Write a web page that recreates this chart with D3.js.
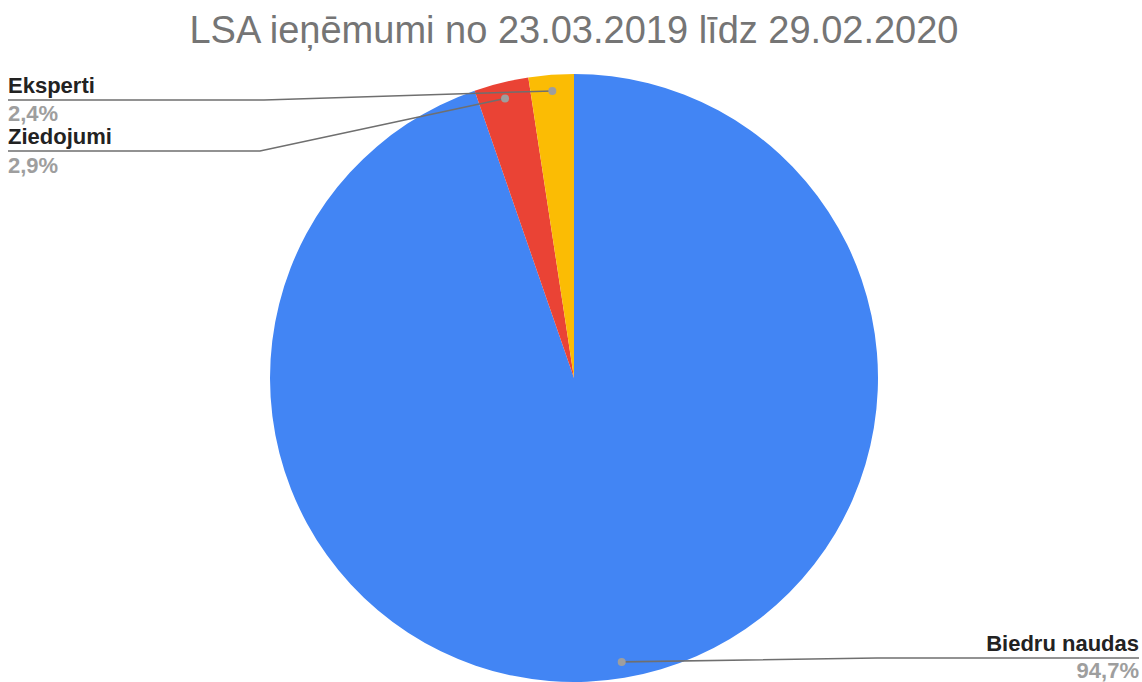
<!DOCTYPE html>
<html>
<head>
<meta charset="utf-8">
<script src="https://cdn.jsdelivr.net/npm/d3@7"></script>
<style>
  body { margin: 0; background: #fff; }
  svg { display: block; font-family: "Liberation Sans", Arial, sans-serif; }
</style>
</head>
<body>
<div id="chart"></div>
<script>
const categories = ['Biedru naudas', 'Ziedojumi', 'Eksperti'];
const values = [94.7, 2.9, 2.4];
const percentLabels = ['94,7%', '2,9%', '2,4%'];
const colors = ['#4285F4', '#EA4335', '#FBBC04'];

const width = 1142;
const height = 682;
const cx = 574;
const cy = 378;
const radius = 304;

// where each label sits: side, y of the horizontal leader, x of the elbow, offset of the % text
const labelLayout = [
  {side: 'right', lineY: 658, elbowX: 877, pctDy: 20},
  {side: 'left', lineY: 151, elbowX: 260, pctDy: 22},
  {side: 'left', lineY: 100, elbowX: 264, pctDy: 21}
];

window.onload = function() {
  drawPie();
};

function drawPie() {
  const svg = d3.select('#chart')
    .append('svg')
      .attr('width', width)
      .attr('height', height);

  // title
  svg.append('text')
    .attr('x', cx)
    .attr('y', 43)
    .attr('text-anchor', 'middle')
    .attr('fill', '#757575')
    .style('font-size', '38px')
    .text('LSA ieņēmumi no 23.03.2019 līdz 29.02.2020');

  const data = categories.map((c, i) => ({name: c, value: values[i], pct: percentLabels[i], color: colors[i], layout: labelLayout[i]}));

  const parsed = d3.pie().sort(null).value(d => d.value)(data);

  const arc = d3.arc().innerRadius(0).outerRadius(radius);
  const dotArc = d3.arc().innerRadius(radius * 0.947).outerRadius(radius * 0.947);

  const g = svg.append('g')
    .attr('transform', `translate(${cx},${cy})`);

  g.selectAll('path')
    .data(parsed)
    .enter()
      .append('path')
        .attr('d', arc)
        .attr('fill', d => d.data.color);

  // leader lines + labels
  const lines = svg.append('g');
  parsed.forEach(d => {
    const c = dotArc.centroid(d);
    const px = cx + c[0];
    const py = cy + c[1];
    const l = d.data.layout;
    const endX = l.side === 'left' ? 8 : 1139;

    lines.append('polyline')
      .attr('points', `${px},${py} ${l.elbowX},${l.lineY} ${endX},${l.lineY}`)
      .attr('fill', 'none')
      .attr('stroke', '#6f6f6f')
      .attr('stroke-width', 1.6);

    lines.append('circle')
      .attr('cx', px)
      .attr('cy', py)
      .attr('r', 4)
      .attr('fill', '#9e9e9e');

    const anchor = l.side === 'left' ? 'start' : 'end';
    lines.append('text')
      .attr('x', endX)
      .attr('y', l.lineY - 7)
      .attr('text-anchor', anchor)
      .attr('fill', '#222')
      .style('font-size', '22px')
      .style('font-weight', 'bold')
      .text(d.data.name);

    lines.append('text')
      .attr('x', endX)
      .attr('y', l.lineY + l.pctDy)
      .attr('text-anchor', anchor)
      .attr('fill', '#9e9e9e')
      .style('font-size', '22px')
      .style('font-weight', 'bold')
      .text(d.data.pct);
  });
}
</script>
</body>
</html>
